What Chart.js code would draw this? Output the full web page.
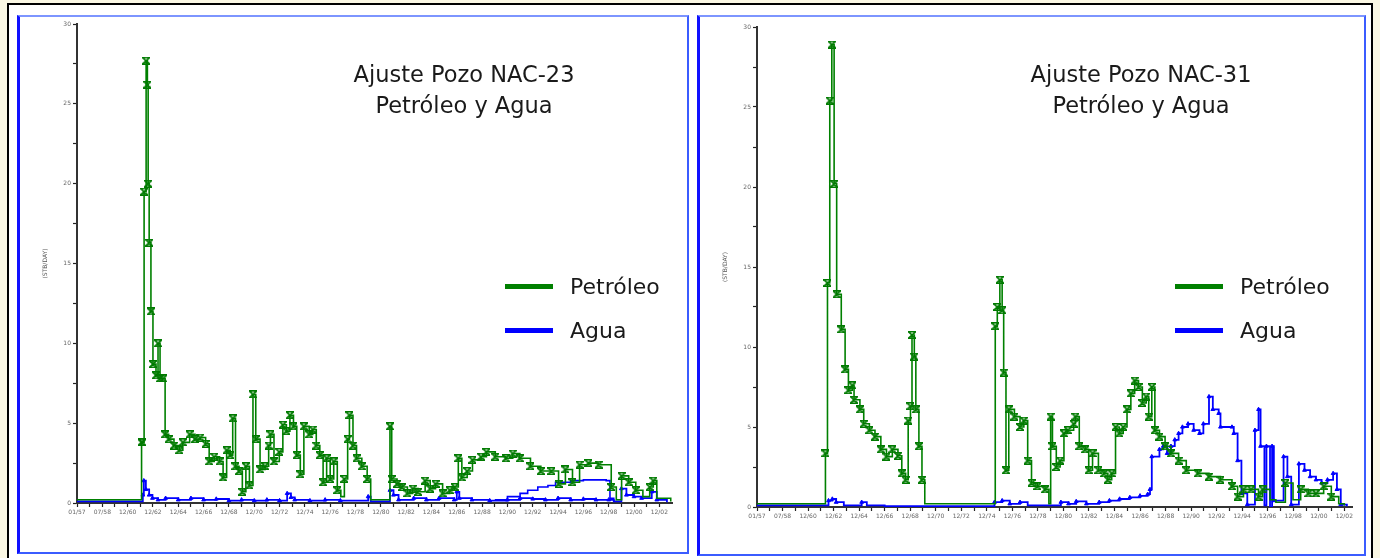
<!DOCTYPE html>
<html>
<head>
<meta charset="utf-8">
<script src="https://cdn.jsdelivr.net/npm/chart.js@4.4.1/dist/chart.umd.min.js"></script>
<style>
  body { margin: 0; width: 1380px; height: 558px; background: #fbf8e4; position: relative; overflow: hidden; font-family: "DejaVu Sans", Verdana, sans-serif; }
  #frame { position: absolute; left: 7px; top: 3px; width: 1366px; height: 560px; background: #fff; border: 2px solid #000; box-sizing: border-box; }
  .panel { position: absolute; box-sizing: border-box; border: 2px solid #3b5cff; border-left: 3px solid #1010ff; border-top-color: #7d95ff; }
  canvas { position: absolute; }
  .title { position: absolute; width: 400px; text-align: center; font-size: 22.5px; line-height: 31px; color: #1a1a1a; }
  .leg { position: absolute; font-size: 22px; color: #1a1a1a; line-height: 26px; }
  .leg i { position: absolute; left: -65px; top: 10px; width: 48px; height: 5px; }
</style>
</head>
<body>
<div id="frame"></div>
<div class="panel" style="left:17px;top:15px;width:672px;height:539px;"></div>
<div class="panel" style="left:697px;top:15px;width:669px;height:541px;"></div>

<canvas id="c23" width="665" height="530" style="left:20px;top:18px;"></canvas>
<canvas id="c31" width="662" height="530" style="left:700px;top:18px;"></canvas>

<div class="title" style="left:264px;top:59px;">Ajuste Pozo NAC-23<br>Petróleo y Agua</div>
<div class="title" style="left:941px;top:59px;">Ajuste Pozo NAC-31<br>Petróleo y Agua</div>

<div class="leg" style="left:570px;top:274px;"><i style="background:#008000"></i>Petróleo</div>
<div class="leg" style="left:570px;top:318px;"><i style="background:#0000ff"></i>Agua</div>
<div class="leg" style="left:1240px;top:274px;"><i style="background:#008000"></i>Petróleo</div>
<div class="leg" style="left:1240px;top:318px;"><i style="background:#0000ff"></i>Agua</div>

<script>
"use strict";

const tickLabels = ['01/57', '07/58', '12/60', '12/62', '12/64', '12/66', '12/68', '12/70', '12/72', '12/74', '12/76', '12/78',
  '12/80', '12/82', '12/84', '12/86', '12/88', '12/90', '12/92', '12/94', '12/96', '12/98', '12/00', '12/02'];

// NAC-23 petroleo
const oil23T = [0, 2.55, 2.57, 2.65, 2.73, 2.78, 2.81, 2.85, 2.92, 3.00, 3.12, 3.20, 3.28, 3.40, 3.48, 3.62, 3.83, 4.04, 4.18, 4.45,
  4.66, 4.87, 5.08, 5.22, 5.42, 5.63, 5.77, 5.91, 6.05, 6.15, 6.26, 6.40, 6.53, 6.67, 6.81, 6.95, 7.06, 7.23, 7.43, 7.57,
  7.64, 7.78, 7.99, 8.13, 8.27, 8.41, 8.55, 8.68, 8.82, 8.96, 9.17, 9.31, 9.45, 9.59, 9.72, 9.86, 10.0, 10.14, 10.28, 10.42,
  10.56, 10.69, 10.76, 10.90, 11.04, 11.25, 11.46, 11.60, 12.29, 12.36, 12.43, 12.64, 12.84, 13.05, 13.26, 13.47, 13.75, 13.95, 14.16, 14.44,
  14.72, 14.92, 15.06, 15.20, 15.41, 15.62, 15.96, 16.17, 16.52, 16.94, 17.21, 17.49, 17.91, 18.32, 18.74, 19.02, 19.29, 19.57, 19.85, 20.2,
  20.6, 21.10, 21.30, 21.51, 21.79, 22.07, 22.35, 22.62, 22.76, 22.90, 23.45];
const oil23V = [0.2, 3.8, 3.8, 19.5, 27.7, 26.2, 20, 16.3, 12, 8.7, 8.0, 10, 7.8, 7.8, 4.3, 4.0, 3.6, 3.3, 3.8, 4.3,
  4.0, 4.1, 3.7, 2.6, 2.9, 2.6, 1.6, 3.3, 3.0, 5.3, 2.3, 2.0, 0.7, 2.3, 1.1, 6.8, 4.0, 2.1, 2.3, 3.6,
  4.3, 2.6, 3.2, 4.9, 4.5, 5.5, 4.8, 3.0, 1.8, 4.8, 4.3, 4.6, 3.6, 3.0, 1.3, 2.8, 1.5, 2.6, 0.8, 0.4,
  1.5, 4.0, 5.5, 3.6, 2.8, 2.3, 1.5, 0.2, 0.2, 4.8, 1.5, 1.2, 1.0, 0.6, 0.9, 0.7, 1.4, 0.9, 1.2, 0.6,
  0.8, 1.0, 2.8, 1.6, 2.0, 2.7, 2.9, 3.2, 2.9, 2.8, 3.1, 2.8, 2.3, 2.0, 2.0, 1.2, 2.1, 1.3, 2.4, 2.5,
  2.4, 1.0, 0.2, 1.7, 1.3, 0.8, 0.4, 1.0, 1.4, 0.3, 0.1];

// NAC-23 agua (observado y simulado)
const water23T = [0, 2.60, 2.64, 2.72, 2.85, 2.98, 3.2, 3.5, 4.0, 4.5, 5.0, 5.5, 6.0, 6.5, 7.0, 7.5, 8.0, 8.3, 8.45, 8.6,
  9.2, 9.8, 10.4, 11.5, 11.6, 12.3, 12.36, 12.5, 12.7, 13.3, 13.8, 14.3, 14.9, 15.0, 15.1, 15.6, 16.3, 17.0, 17.5, 18.0,
  18.5, 19.0, 19.5, 20.0, 20.5, 21.0, 21.2, 21.5, 21.7, 22.0, 22.3, 22.7, 22.9, 23.3];
const water23V = [0.1, 0.5, 1.4, 0.85, 0.5, 0.3, 0.2, 0.3, 0.2, 0.3, 0.2, 0.25, 0.15, 0.2, 0.15, 0.2, 0.15, 0.6, 0.35, 0.2,
  0.15, 0.2, 0.15, 0.4, 0.1, 0.1, 0.8, 0.5, 0.2, 0.3, 0.2, 0.3, 0.2, 0.7, 0.3, 0.2, 0.15, 0.2, 0.3, 0.25,
  0.2, 0.3, 0.2, 0.25, 0.2, 0.2, 0.1, 0.9, 0.5, 0.4, 0.3, 0.7, 0.2, 0.05];
const water23SimT = [16.5, 17.0, 17.5, 17.8, 18.2, 18.6, 18.9, 19.5, 20.0, 20.5, 20.9, 21.05, 21.2];
const water23SimV = [0.2, 0.4, 0.6, 0.8, 1.0, 1.1, 1.3, 1.4, 1.45, 1.45, 1.4, 0.3, 0.1];

// NAC-31 petroleo
const oil31T = [0, 2.68, 2.76, 2.85, 2.93, 3.02, 3.12, 3.30, 3.45, 3.58, 3.73, 3.80, 4.03, 4.18, 4.40, 4.62, 4.85, 5.07, 5.30, 5.52,
  5.67, 5.82, 5.92, 6.01, 6.07, 6.16, 6.22, 6.34, 6.46, 6.57, 9.33, 9.41, 9.51, 9.60, 9.66, 9.75, 9.86, 10.08, 10.30, 10.45,
  10.60, 10.75, 10.98, 11.28, 11.43, 11.50, 11.57, 11.72, 11.87, 12.02, 12.17, 12.40, 12.47, 12.62, 12.85, 12.99, 13.14, 13.37, 13.59, 13.74,
  13.89, 14.04, 14.19, 14.34, 14.49, 14.64, 14.79, 14.94, 15.09, 15.24, 15.34, 15.46, 15.58, 15.76, 15.98, 16.21, 16.51, 16.81, 17.26, 17.70,
  18.15, 18.60, 18.82, 19.05, 19.35, 19.64, 19.80, 20.09, 20.32, 20.69, 20.99, 21.29, 21.59, 21.89, 22.19, 22.49, 22.78, 23.0];
const oil31V = [0.2, 3.35, 14, 25.4, 28.9, 20.2, 13.3, 11.1, 8.6, 7.3, 7.6, 6.7, 6.1, 5.2, 4.8, 4.4, 3.6, 3.15, 3.6, 3.2,
  2.1, 1.7, 5.4, 6.3, 10.75, 9.4, 6.1, 3.8, 1.7, 0.2, 11.3, 12.5, 14.2, 12.3, 8.4, 2.3, 6.1, 5.65, 5.0, 5.4,
  2.9, 1.5, 1.3, 1.1, 0.2, 5.65, 3.8, 2.5, 2.9, 4.6, 4.8, 5.2, 5.65, 3.8, 3.6, 2.3, 3.35, 2.3, 2.1, 1.7,
  2.1, 5.0, 4.6, 5.0, 6.1, 7.1, 7.9, 7.5, 6.5, 6.9, 5.65, 7.5, 4.8, 4.4, 3.8, 3.35, 2.9, 2.3, 2.1, 1.9,
  1.7, 1.3, 0.65, 1.1, 1.1, 0.65, 1.1, 0.45, 0.3, 1.5, 0.45, 1.1, 0.85, 0.85, 1.3, 0.65, 0.2, 0.1];

// NAC-31 agua
const water31T = [0, 2.8, 2.95, 3.1, 3.4, 4.1, 4.3, 5.0, 9.3, 9.6, 9.9, 10.3, 10.6, 11.9, 12.2, 12.5, 12.9, 13.4, 13.8, 14.2,
  14.6, 15.0, 15.3, 15.39, 15.46, 15.76, 15.91, 16.06, 16.21, 16.36, 16.51, 16.66, 16.88, 17.10, 17.33, 17.48, 17.70, 17.85, 18.08, 18.15,
  18.60, 18.67, 18.82, 18.97, 19.20, 19.50, 19.64, 19.72, 19.87, 19.95, 20.09, 20.17, 20.24, 20.62, 20.77, 20.92, 21.22, 21.44, 21.66, 21.89,
  22.11, 22.34, 22.56, 22.71, 22.86, 23.1];
const water31V = [0.1, 0.4, 0.5, 0.3, 0.1, 0.3, 0.1, 0.05, 0.3, 0.4, 0.2, 0.3, 0.1, 0.3, 0.2, 0.35, 0.2, 0.3, 0.4, 0.5,
  0.6, 0.7, 0.8, 1.1, 3.15, 3.6, 3.8, 3.35, 3.8, 4.2, 4.6, 5.0, 5.2, 4.8, 4.6, 5.2, 6.9, 6.1, 5.85, 5.0,
  5.0, 4.6, 2.9, 0.85, 0.15, 4.8, 6.1, 3.8, 0.1, 3.8, 0, 3.8, 0.4, 3.15, 1.9, 0.15, 2.7, 2.3, 1.9, 1.7,
  1.5, 1.7, 2.1, 1.1, 0.15, 0.05];

const yTicks = [0, 5, 10, 15, 20, 25, 30];

function zip(t, v) {
  return t.map((x, i) => ({ x: x, y: v[i] }));
}

// marcador tipo reloj de arena para petroleo
function hourglass(color) {
  const c = document.createElement('canvas');
  c.width = 8; c.height = 8;
  const g = c.getContext('2d');
  g.strokeStyle = color;
  g.lineWidth = 1.6;
  g.beginPath();
  g.moveTo(0.5, 0.8); g.lineTo(7.5, 0.8); g.lineTo(0.5, 7.2); g.lineTo(7.5, 7.2); g.closePath();
  g.stroke();
  return c;
}
const oilMark = hourglass('#007a00');

function xLabel(v) {
  const i = Math.round(v);
  if (Math.abs(v - i) > 1e-6) return '';
  return tickLabels[i] || '';
}

// marcas cada medio intervalo, etiqueta en los enteros
function halfTicks(scale) {
  const out = [];
  for (let i = 0; i <= (tickLabels.length - 1) * 2; i++) out.push({ value: i / 2 });
  scale.ticks = out;
}

function makeChart(id, oil, water, waterSim, xMax, padRight, padTop, xHeight) {
  const sets = [
    {
      data: oil, borderColor: '#008000', borderWidth: 1.6, stepped: true,
      pointStyle: oilMark, pointRadius: c => (c.raw && c.raw.y > 0.45 ? 4 : 0)
    },
    {
      data: water, borderColor: '#0000ff', backgroundColor: '#0000ff', borderWidth: 1.8, stepped: true,
      pointStyle: 'triangle', pointRadius: c => (c.raw && c.raw.y > 0.12 ? 2.2 : 0), pointBorderWidth: 1
    }
  ];
  if (waterSim) {
    sets.push({ data: waterSim, borderColor: '#0000ff', borderWidth: 1.6, stepped: true, pointRadius: 0 });
  }
  return new Chart(document.getElementById(id), {
    type: 'line',
    data: { datasets: sets },
    options: {
      responsive: false,
      animation: false,
      layout: { padding: { left: 22, right: padRight, top: padTop, bottom: 0 } },
      plugins: { legend: { display: false }, tooltip: { enabled: false } },
      scales: {
        x: {
          type: 'linear', min: 0, max: xMax,
          afterFit: s => { s.height = xHeight; },
          afterBuildTicks: halfTicks,
          ticks: {
            autoSkip: false, maxRotation: 0, padding: 2,
            font: { size: 6, family: 'DejaVu Sans' }, color: '#666',
            callback: xLabel
          },
          grid: { drawOnChartArea: false, tickLength: 4, tickColor: '#222', tickWidth: 1.2 },
          border: { display: true, color: '#333', width: 2 }
        },
        y: {
          min: 0, max: 30,
          afterFit: s => { s.width = 35; },
          ticks: {
            stepSize: 2.5, padding: 2,
            font: { size: 6, family: 'DejaVu Sans' }, color: '#666',
            callback: v => (yTicks.includes(v) ? v : '')
          },
          grid: { drawOnChartArea: false, tickLength: 4, tickColor: '#222', tickWidth: 1.2 },
          border: { display: true, color: '#333', width: 2 },
          title: { display: true, text: '(STB/DAY)', font: { size: 6, family: 'DejaVu Sans' }, color: '#555', padding: 0 }
        }
      }
    }
  });
}

makeChart('c23', zip(oil23T, oil23V), zip(water23T, water23V), zip(water23SimT, water23SimV), 23.5, 13, 6, 45);
makeChart('c31', zip(oil31T, oil31V), zip(water31T, water31V), null, 23.3, 10, 9, 41);
</script>
</body>
</html>
